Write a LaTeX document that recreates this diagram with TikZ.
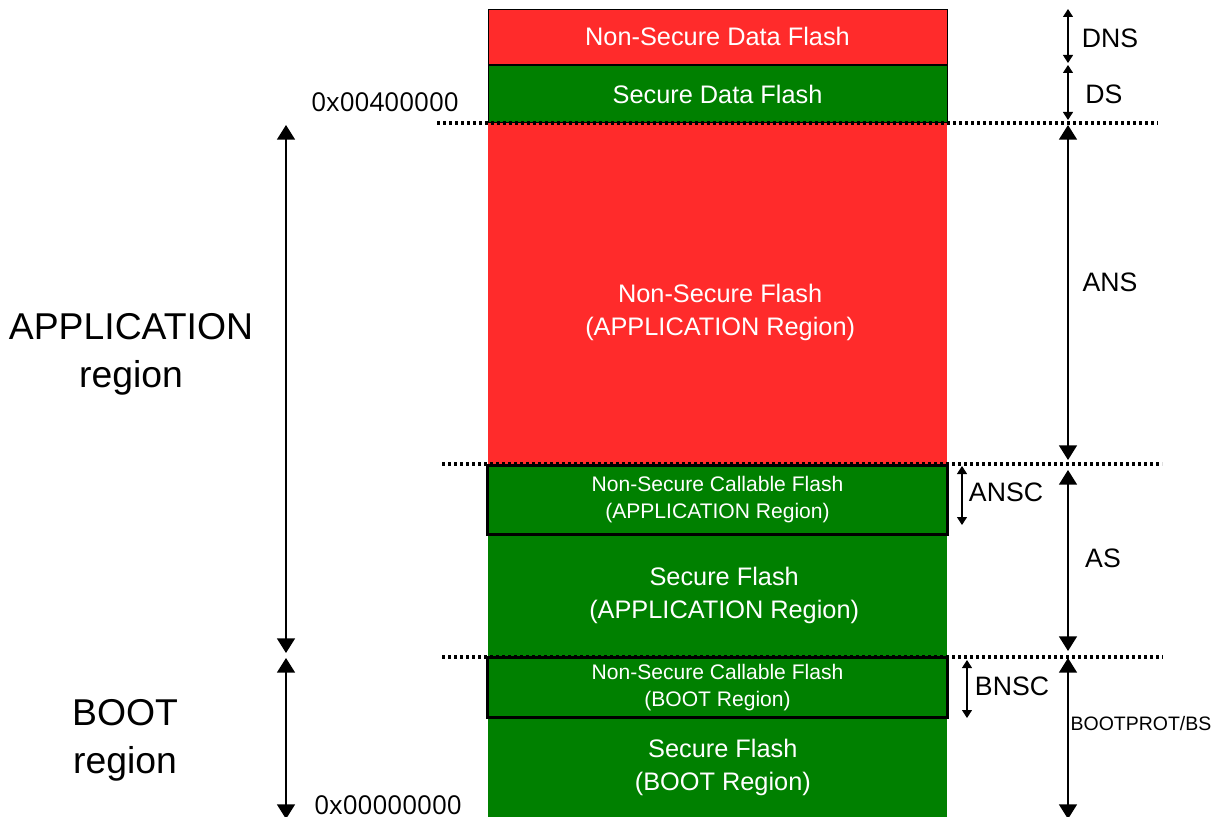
\documentclass[tikz,border=0pt]{standalone}
\usepackage{fontspec}
\usepackage{tikz}
\usetikzlibrary{arrows.meta, positioning}
\setmainfont{Liberation Sans}
\newfontfamily\addrfont{Open Sans}
\definecolor{nsred}{HTML}{FF2B2B}
\definecolor{sgreen}{HTML}{008000}

\begin{document}
\begin{tikzpicture}[x=0.75pt, y=-0.75pt,
    mem/.style={fill=#1, draw=black, line width=0.6pt, inner sep=0pt,
                minimum width=344.25pt, text=white, align=center,
                font=\fontsize{19}{24.75}\selectfont},
    nsc/.style={mem=sgreen, line width=1.5pt,
                font=\fontsize{15.8}{20.25}\selectfont},
    sep/.style={line width=2.6pt, dash pattern=on 2.6pt off 1.9pt},
    dimbig/.style={{Triangle[width=13.5pt,length=11pt]}-{Triangle[width=13.5pt,length=11pt]}, line width=1.1pt},
    dimsmall/.style={{Triangle[width=7.5pt,length=6pt]}-{Triangle[width=7.5pt,length=6pt]}, line width=0.8pt},
    dimlbl/.style={font=\fontsize{20}{24}\selectfont},
    addr/.style={anchor=base, inner sep=1pt, font=\addrfont\fontsize{19.5}{24}\selectfont},
    region/.style={align=center, font=\fontsize{28}{36}\selectfont},
]
    \useasboundingbox (0,0) rectangle (1222,817);

    % memory map
    \node[mem=nsred, minimum height=41.25pt] (dns) at (717.5,36.5) {Non-Secure Data Flash};
    \node[mem=sgreen, minimum height=42.75pt] (ds) at (717.5,94) {Secure Data Flash};
    \node[mem=nsred, draw=none, minimum height=255.75pt,
          label={[yshift=-14.5pt, xshift=2pt, text=white, align=center, font=\fontsize{19}{24.75}\selectfont]center:Non-Secure Flash\\(APPLICATION Region)}] (ans) at (717.5,293.5) {};
    \node[nsc, minimum height=51pt] (ansc) at (717.5,500) {Non-Secure Callable Flash\\(APPLICATION Region)};
    \node[mem=sgreen, draw=none, minimum height=91.5pt] (as) at (717.5,595) {\hspace*{10pt}Secure Flash\\\hspace*{10pt}(APPLICATION Region)};
    \node[nsc, minimum height=44.25pt] (bnsc) at (717.5,687.5) {Non-Secure Callable Flash\\(BOOT Region)};
    \node[mem=sgreen, draw=none, minimum height=75pt] (bs) at (717.5,767) {\hspace*{8pt}Secure Flash\\\hspace*{8pt}(BOOT Region)};
    \draw[line width=1.5pt] (ansc.north west) rectangle (ansc.south east);
    \draw[line width=1.5pt] (bnsc.north west) rectangle (bnsc.south east);

    % boundaries
    \draw[sep] (437,123) -- (1158,123);
    \draw[sep] (442,464) -- (1162,464);
    \draw[sep] (442,657) -- (1163,657);

    % addresses and regions
    \node[addr] (top) at (385,112) {0x00400000};
    \node[addr] (bottom) at (388,814) {0x00000000};
    \node[region] (appreg) at (131,354) {APPLICATION\\region};
    \node[region] (bootreg) at (125,740.5) {BOOT\\region};
    \draw[dimbig] (286,125) -- (286,653);
    \draw[dimbig] (286,658) -- (286,819);

    % sizes
    \draw[dimsmall] (1068,9) -- (1068,63);
    \draw[dimsmall] (1068,65) -- (1068,120);
    \draw[dimbig] (1068,125) -- (1068,460);
    \draw[dimbig] (1068,470) -- (1068,651);
    \draw[dimbig] (1068,658) -- (1068,819);
    \draw[dimsmall] (962,466) -- (962,525);
    \draw[dimsmall] (967,660) -- (967,718);
    \node[dimlbl] (dnslbl) at (1110,38) {DNS};
    \node[dimlbl] (dslbl) at (1104,94) {DS};
    \node[dimlbl] (anslbl) at (1110,282) {ANS};
    \node[dimlbl] (ansclbl) at (1006,492) {ANSC};
    \node[dimlbl] (aslbl) at (1103,558) {AS};
    \node[dimlbl] (bnsclbl) at (1012,686) {BNSC};
    \node[font=\fontsize{14.6}{18}\selectfont] (bslbl) at (1141,724) {BOOTPROT/BS};
\end{tikzpicture}
\end{document}
